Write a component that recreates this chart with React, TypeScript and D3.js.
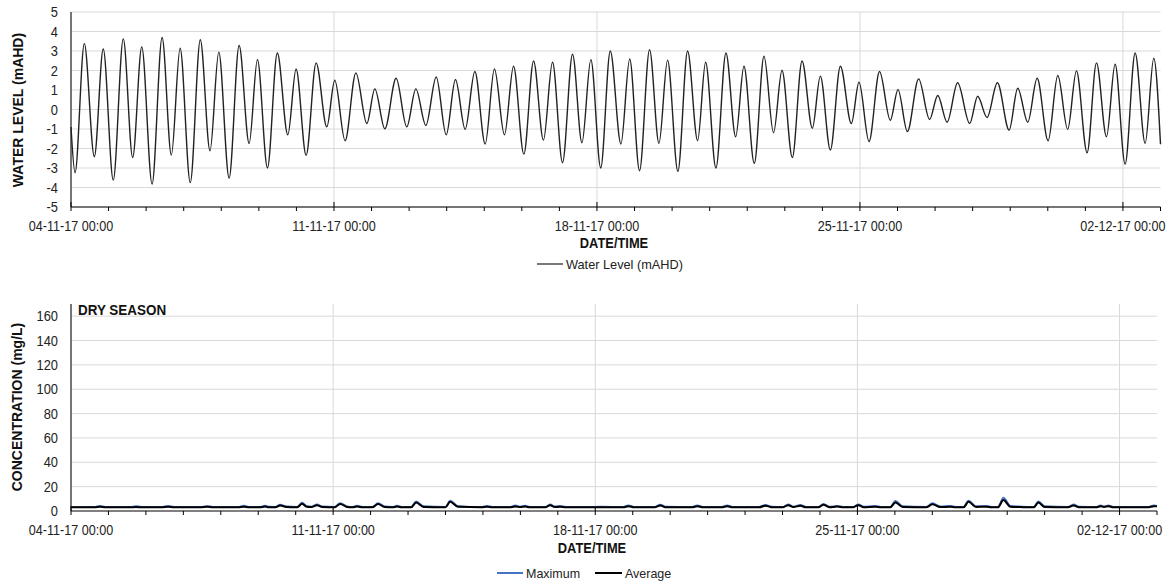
import React from "react";
import * as d3 from "d3";

// ---------- DATA ----------
// Water level: hours after 04-11-17 00:00 of each turning point, and level (mAHD)
const tideHours = [
  0, 2.6, 8.5, 14.9, 20.6, 27.0, 33.4, 39.4, 45.2, 51.8, 58.2, 64.1, 69.7, 76.2, 82.6, 88.8, 94.4,
  101.0, 107.4, 113.8, 119.1, 125.5, 131.8, 138.5, 143.8, 150.2, 156.6, 163.4, 168.5, 175.1, 182.0,
  189.0, 194.1, 200.5, 207.7, 214.5, 220.3, 226.7, 233.3, 239.7, 245.6, 251.8, 258.0, 264.6, 270.5,
  276.9, 282.7, 289.3, 295.5, 301.8, 307.6, 314.0, 320.4, 326.4, 332.1, 338.4, 344.5, 351.3, 356.9,
  363.2, 369.6, 375.6, 381.1, 387.7, 393.9, 400.3, 405.4, 412.0, 418.4, 424.6, 429.9, 436.5, 442.7,
  448.8, 454.2, 460.8, 467.0, 473.6, 478.7, 485.1, 491.5, 498.5, 503.4, 509.8, 516.5, 523.4, 528.3,
  534.3, 541.5, 548.5, 553.7, 559.7, 566.4, 574.1, 579.2, 585.2, 591.8, 599.3, 604.8, 611.2, 617.2,
  624.2, 630.4, 636.7, 642.3, 649.1, 655.1, 661.5, 667.0, 673.4, 679.8, 686.2, 691.7, 696.0,
];
const tideLevels = [
  -0.9, -3.24, 3.38, -2.42, 3.1, -3.62, 3.62, -2.46, 3.21, -3.82, 3.69, -2.34, 3.14, -3.75, 3.58, -2.12, 2.94,
  -3.52, 3.28, -1.74, 2.56, -3.0, 2.9, -1.3, 2.08, -2.35, 2.39, -0.89, 1.5, -1.6, 1.88,
  -0.72, 1.06, -0.99, 1.6, -0.89, 1.06, -0.82, 1.67, -1.3, 1.54, -1.02, 1.95, -1.77, 2.08,
  -1.3, 2.22, -2.29, 2.49, -1.57, 2.42, -2.73, 2.83, -1.71, 2.56, -3.0, 3.0, -1.77, 2.59,
  -3.14, 3.07, -1.74, 2.53, -3.17, 3.0, -1.6, 2.42, -3.0, 2.9, -1.4, 2.22, -2.76, 2.73,
  -1.19, 2.01, -2.46, 2.49, -0.96, 1.71, -2.08, 2.22, -0.72, 1.4, -1.64, 1.95, -0.55, 1.02,
  -1.13, 1.57, -0.51, 0.72, -0.65, 1.37, -0.72, 0.68, -0.41, 1.37, -1.06, 1.09, -0.65, 1.6,
  -1.6, 1.74, -1.02, 1.98, -2.22, 2.39, -1.4, 2.32, -2.8, 2.9, -1.74, 2.63, -1.78,
];

// Concentration (mg/L): hours after start, average, maximum
const concHours = [
  0, 15, 18.6, 22, 38, 41.7, 45, 58, 62.2, 66, 83, 87.2, 91, 107, 110.9, 114, 121, 124.4, 127, 131, 134, 138,
  145, 148.1, 151, 154, 157.7, 161, 169, 172.5, 177, 180, 183.4, 187, 193, 196.8, 201, 206, 209, 212,
  218, 221.2, 226, 240, 243, 248, 263, 266.7, 270, 281, 284.7, 288, 291.1, 294, 304, 307.1, 310, 313.5, 317,
  330, 340, 354, 357.2, 361, 374, 377.7, 381, 398, 401.4, 405, 417, 420.6, 424, 441, 445, 449, 456, 459.7,
  463, 467.4, 471, 479, 482.2, 486, 491.1, 495, 501, 504.6, 508, 515.5, 519, 525, 528.4, 533, 548, 552.1,
  557, 563.6, 567, 572, 575.2, 580, 586.7, 590, 594, 597.6, 602, 609, 617, 620, 624, 639, 642.5, 646,
  657, 659.8, 662, 664.9, 668, 690, 694, 696,
];
const concAverage = [
  3.0, 3.0, 3.4, 3.0, 3.0, 3.3, 3.0, 3.0, 3.4, 3.0, 3.0, 3.4, 3.0, 3.0, 3.5, 3.0, 3.0, 3.6, 3.1, 3.1, 4.6, 3.3,
  3.0, 6.0, 3.4, 3.2, 4.8, 3.2, 3.0, 5.8, 3.3, 3.0, 3.6, 3.0, 3.0, 5.8, 3.2, 3.0, 3.6, 3.0,
  3.0, 7.0, 3.3, 3.0, 7.6, 3.4, 3.0, 3.5, 3.0, 3.0, 3.7, 3.2, 3.6, 3.0, 3.0, 4.8, 3.2, 3.5, 3.0,
  3.0, 3.1, 3.0, 4.0, 3.0, 3.0, 4.6, 3.1, 3.0, 4.0, 3.0, 3.0, 4.0, 3.0, 3.0, 4.4, 3.1, 3.0, 4.8,
  3.2, 4.4, 3.0, 3.0, 5.2, 3.1, 3.6, 3.0, 3.0, 4.8, 3.1, 3.5, 3.0, 3.0, 7.0, 3.3, 3.0, 5.5,
  3.2, 3.5, 3.0, 3.0, 7.5, 3.3, 3.5, 3.0, 3.0, 9.0, 3.5, 3.2, 3.0, 7.0, 3.3, 3.0, 4.5, 3.1,
  3.0, 4.0, 3.3, 4.0, 3.0, 3.0, 4.0, 3.8,
];
const concMaximum = [
  3.2, 3.3, 4.2, 3.4, 3.3, 4.0, 3.4, 3.3, 4.2, 3.4, 3.3, 4.0, 3.4, 3.3, 4.3, 3.4, 3.3, 4.3, 3.5, 3.4, 5.2, 3.8,
  3.4, 6.8, 4.0, 3.6, 5.5, 3.7, 3.4, 6.5, 3.9, 3.4, 4.3, 3.4, 3.3, 6.5, 3.7, 3.3, 4.3, 3.4,
  3.3, 7.8, 3.9, 3.3, 8.5, 4.0, 3.3, 4.2, 3.4, 3.3, 4.5, 3.6, 4.3, 3.4, 3.3, 5.5, 3.7, 4.2, 3.4,
  3.3, 3.5, 3.3, 4.7, 3.4, 3.3, 5.3, 3.6, 3.3, 4.6, 3.4, 3.3, 4.6, 3.4, 3.3, 5.1, 3.6, 3.3, 5.5,
  3.6, 5.0, 3.4, 3.3, 5.8, 3.5, 4.2, 3.4, 3.3, 5.5, 3.5, 4.1, 3.4, 3.3, 8.2, 3.9, 3.3, 6.4,
  3.8, 4.2, 3.4, 3.3, 8.6, 3.9, 4.1, 3.4, 3.3, 11.0, 4.2, 3.6, 3.3, 7.8, 3.9, 3.3, 5.5, 3.6,
  3.3, 4.6, 3.6, 4.6, 3.4, 3.3, 4.5, 4.2,
];

const tideTicks = [-5, -4, -3, -2, -1, 0, 1, 2, 3, 4, 5];
const concTicks = [0, 20, 40, 60, 80, 100, 120, 140, 160];
const totalDays = 29;

// ---------- HELPERS ----------
const start = new Date(2017, 10, 4, 0, 0, 0);
const at = (h: number) => new Date(start.getTime() + h * 3600000);
const end = d3.timeDay.offset(start, totalDays);
const fmt = d3.timeFormat("%d-%m-%y %H:%M");
const FONT = "'Liberation Sans', Arial, sans-serif";
const GRID = "#d9d9d9";

type TProps = {
  x: number;
  y: number;
  children: React.ReactNode;
  size?: number;
  bold?: boolean;
  anchor?: "start" | "middle" | "end";
  sx?: number;
  rotate?: number;
  fill?: string;
};
function T({ x, y, children, size = 14, bold = false, anchor = "start", sx = 0.9, rotate = 0, fill = "#222" }: TProps) {
  return (
    <text
      transform={`translate(${x},${y}) rotate(${rotate}) scale(${sx},1)`}
      textAnchor={anchor}
      fontSize={size}
      fontWeight={bold ? "bold" : "normal"}
      fontFamily={FONT}
      fill={fill}
    >
      {children}
    </text>
  );
}

function XAxis({ x, y0, y1 }: { x: d3.ScaleTime<number, number>; y0: number; y1: number }) {
  const days = d3.timeDay.range(start, d3.timeDay.offset(end, 1));
  const majors = days.filter((d, i) => i % 7 === 0);
  return (
    <g>
      {majors.map((d, i) => (
        <line key={"vg" + i} x1={x(d)} x2={x(d)} y1={y0} y2={y1} stroke={GRID} strokeWidth={1} />
      ))}
      {days.map((d, i) => (
        <line
          key={"t" + i}
          x1={x(d)}
          x2={x(d)}
          y1={i % 7 === 0 ? y1 - 5 : y1}
          y2={y1 + 4}
          stroke="#000"
          strokeWidth={1}
        />
      ))}
      {majors.map((d, i) => (
        <T key={"l" + i} x={x(d)} y={y1 + 24} anchor="middle" sx={0.9}>
          {fmt(d)}
        </T>
      ))}
    </g>
  );
}

export default function App() {
  const left = 71;
  // top chart
  const t = { top: 12, bottom: 207, right: 1160.5 };
  const xT = d3.scaleTime().domain([start, end]).range([left, t.right]);
  const yT = d3.scaleLinear().domain([-5, 5]).range([t.bottom, t.top]);
  const tideLine = d3
    .line<number>()
    .x((_, i) => xT(at(tideHours[i])))
    .y((v) => yT(v))
    .curve(d3.curveMonotoneX);

  // bottom chart
  const b = { top: 304, bottom: 511, right: 1157 };
  const xB = d3.scaleTime().domain([start, end]).range([left, b.right]);
  const yB = d3.scaleLinear().domain([0, 170]).range([b.bottom, b.top]);
  const concLine = d3
    .line<number>()
    .x((_, i) => xB(at(concHours[i])))
    .y((v) => yB(v))
    .curve(d3.curveMonotoneX);

  return (
    <svg width={1174} height={588} style={{ display: "block", position: "absolute", left: 0, top: 0, background: "#fff" }}>
      {/* ===== TOP CHART ===== */}
      {tideTicks.map((v) => (
        <line key={"hg" + v} x1={left} x2={t.right} y1={yT(v)} y2={yT(v)} stroke={GRID} strokeWidth={1} />
      ))}
      <XAxis x={xT} y0={t.top} y1={t.bottom} />
      <line x1={left} x2={t.right} y1={t.bottom} y2={t.bottom} stroke="#000" strokeWidth={1} />
      <line x1={left} x2={left} y1={t.top} y2={t.bottom} stroke="#000" strokeWidth={1} />
      {tideTicks.map((v) => (
        <T key={"yt" + v} x={58} y={yT(v) + 5} anchor="end" sx={0.92}>
          {v}
        </T>
      ))}
      <path d={tideLine(tideLevels) || ""} fill="none" stroke="#222" strokeWidth={1.4} />
      <T x={614} y={248} anchor="middle" bold sx={0.92} fill="#111">
        DATE/TIME
      </T>
      <T x={23} y={110} anchor="middle" bold sx={1.0} rotate={-90} fill="#111">
        WATER LEVEL (mAHD)
      </T>
      <line x1={537} x2={563} y1={264} y2={264} stroke="#222" strokeWidth={1.2} />
      <T x={566} y={269} size={13} sx={0.98}>
        Water Level (mAHD)
      </T>

      {/* ===== BOTTOM CHART ===== */}
      {concTicks.filter((v) => v > 0).map((v) => (
        <line key={"bg" + v} x1={left} x2={b.right} y1={yB(v)} y2={yB(v)} stroke={GRID} strokeWidth={1} />
      ))}
      <XAxis x={xB} y0={b.top} y1={b.bottom} />
      <line x1={left} x2={b.right} y1={b.bottom} y2={b.bottom} stroke="#000" strokeWidth={1} />
      <line x1={left} x2={left} y1={b.top} y2={b.bottom} stroke="#000" strokeWidth={1} />
      {concTicks.map((v) => (
        <T key={"yb" + v} x={58} y={yB(v) + 5} anchor="end" sx={0.92}>
          {v}
        </T>
      ))}
      <path d={concLine(concMaximum) || ""} fill="none" stroke="#4472c4" strokeWidth={1.8} />
      <path d={concLine(concAverage) || ""} fill="none" stroke="#000" strokeWidth={2} />
      <T x={78} y={315} bold sx={0.96} fill="#111">
        DRY SEASON
      </T>
      <T x={592} y={553} anchor="middle" bold sx={0.92} fill="#111">
        DATE/TIME
      </T>
      <T x={22} y={407} anchor="middle" bold sx={1.0} rotate={-90} fill="#111">
        CONCENTRATION (mg/L)
      </T>
      <line x1={497} x2={523} y1={573} y2={573} stroke="#4472c4" strokeWidth={2} />
      <T x={526} y={578} size={13} sx={0.96}>
        Maximum
      </T>
      <line x1={595} x2={622} y1={573} y2={573} stroke="#000" strokeWidth={2} />
      <T x={625} y={578} size={13} sx={0.96}>
        Average
      </T>
    </svg>
  );
}
